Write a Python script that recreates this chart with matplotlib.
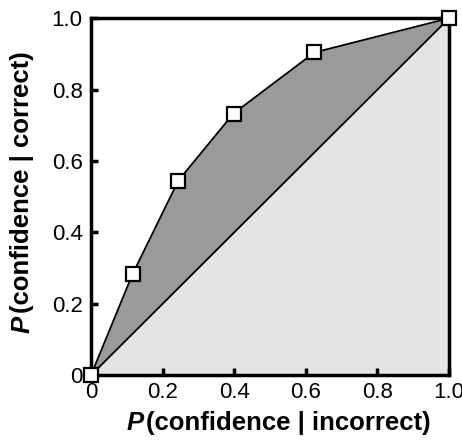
import matplotlib.pyplot as plt
import numpy as np

# pontos da curva ROC (P(conf|incorrect), P(conf|correct))
p_incorrect = [0.0, 0.116, 0.244, 0.398, 0.624, 1.0]
p_correct = [0.0, 0.283, 0.545, 0.733, 0.904, 1.0]
tick_vals = [0, 0.2, 0.4, 0.6, 0.8, 1.0]
tick_labels = ['0', '0.2', '0.4', '0.6', '0.8', '1.0']

plt.rcParams['font.family'] = ['Liberation Sans', 'DejaVu Sans']

fig = plt.figure(figsize=(4.62, 4.44), dpi=100)
ax = fig.add_axes([0.197, 0.155, 0.775, 0.804])

diag = np.array(p_incorrect)
# area abaixo da diagonal
ax.fill_between([0, 1], [0, 0], [0, 1], color='#e4e4e4', lw=0, zorder=1)
# area entre a curva e a diagonal
ax.fill_between(p_incorrect, diag, p_correct, color='#9a9a9a', lw=0, zorder=2)
ax.plot([0, 1], [0, 1], color='black', lw=1.3, zorder=3)
ax.plot(p_incorrect, p_correct, color='black', lw=1.3, zorder=3)
ax.plot(p_incorrect, p_correct, ls='none', marker='s', ms=10, mfc='white',
        mec='black', mew=1.6, zorder=4, clip_on=False)

ax.set_xlim(0, 1)
ax.set_ylim(0, 1)
ax.set_xticks(tick_vals)
ax.set_xticklabels(tick_labels)
ax.set_yticks(tick_vals)
ax.set_yticklabels(tick_labels)
ax.tick_params(direction='in', length=5, width=2.5, labelsize=16)
ax.tick_params(axis='x', pad=5)
ax.tick_params(axis='y', pad=6)
for s in ax.spines.values():
    s.set_linewidth(2.5)

# rotulos: P em italico + resto em negrito
fig.text(0.310, 0.031, 'P', fontsize=18.5, fontweight='bold', style='italic',
         ha='right', va='baseline')
fig.text(0.317, 0.031, '(confidence | incorrect)', fontsize=18.5, fontweight='bold',
         ha='left', va='baseline')
fig.text(0.022, 0.288, 'P', fontsize=18.5, fontweight='bold', style='italic',
         rotation=90, va='top', ha='left')
fig.text(0.022, 0.295, '(confidence | correct)', fontsize=18.5, fontweight='bold',
         rotation=90, va='bottom', ha='left')

fig.savefig('out.png', dpi=100)
